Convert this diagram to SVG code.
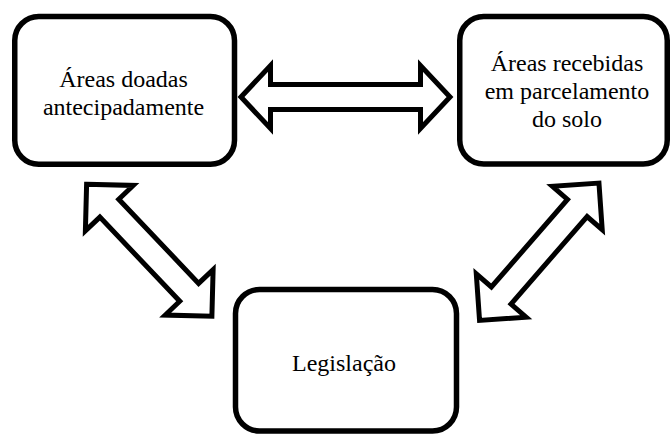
<svg xmlns="http://www.w3.org/2000/svg" width="671" height="434" viewBox="0 0 671 434">
  <style>
    .box { fill: #ffffff; stroke: #000000; stroke-width: 5.5; }
    .arrow { fill: #ffffff; stroke: #000000; stroke-width: 5; stroke-linejoin: miter; stroke-miterlimit: 10; }
    .lbl { font-family: 'Liberation Serif', 'Times New Roman', 'DejaVu Serif', serif; font-size: 24px; fill: #000000; text-anchor: middle; }
  </style>
  <defs>
    <path id="dbl-h" d="M -104.5 0 L -75 -31.5 L -75 -12.5 L 75 -12.5 L 75 -31.5 L 104.5 0 L 75 31.5 L 75 12.5 L -75 12.5 L -75 31.5 Z"/>
    <path id="dbl-d" d="M -91 0 L -58 -33 L -58 -13 L 58 -13 L 58 -33 L 91 0 L 58 33 L 58 13 L -58 13 L -58 33 Z"/>
  </defs>
  <rect width="671" height="434" fill="#ffffff"/>
  <g id="connectors">
    <use href="#dbl-h" class="arrow" transform="translate(345.5 97)"/>
    <use href="#dbl-d" class="arrow" transform="translate(149.25 250.25) rotate(46.5)"/>
    <use href="#dbl-d" class="arrow" transform="translate(539.25 251.75) rotate(-49)"/>
  </g>
  <g id="node-doadas">
    <rect class="box" x="14.75" y="16.5" width="219.75" height="147.75" rx="24" ry="24"/>
    <text class="lbl" font-family="Liberation Serif, serif" x="123.5" y="87">Áreas doadas</text>
    <text class="lbl" font-family="Liberation Serif, serif" x="123.5" y="115">antecipadamente</text>
  </g>
  <g id="node-recebidas">
    <rect class="box" x="459.75" y="16.5" width="207.5" height="147.5" rx="24" ry="24"/>
    <text class="lbl" font-family="Liberation Serif, serif" x="567" y="71">Áreas recebidas</text>
    <text class="lbl" font-family="Liberation Serif, serif" x="567" y="99">em parcelamento</text>
    <text class="lbl" font-family="Liberation Serif, serif" x="567" y="127">do solo</text>
  </g>
  <g id="node-legislacao">
    <rect class="box" x="235.5" y="289.5" width="221" height="141.5" rx="24" ry="24"/>
    <text class="lbl" font-family="Liberation Serif, serif" x="344" y="371">Legislação</text>
  </g>
</svg>
